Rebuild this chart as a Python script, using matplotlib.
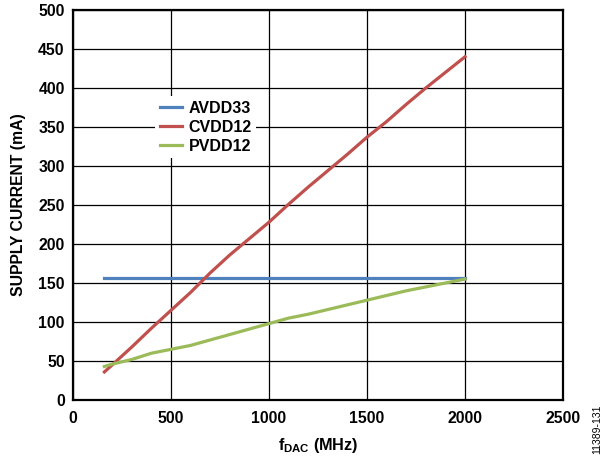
import matplotlib
matplotlib.use("Agg")
import matplotlib.pyplot as plt

plt.rcParams['font.family'] = ['Liberation Sans', 'DejaVu Sans']
plt.rcParams['mathtext.fontset'] = 'custom'
plt.rcParams['mathtext.rm'] = 'Liberation Sans:bold'
plt.rcParams['mathtext.it'] = 'Liberation Sans:bold'
plt.rcParams['mathtext.bf'] = 'Liberation Sans:bold'

# frequency points (MHz)
freq = [160, 200, 300, 400, 500, 600, 700, 800, 900, 1000,
        1100, 1200, 1300, 1400, 1500, 1600, 1700, 1800, 1900, 2000]
avdd33 = [157] * len(freq)
cvdd12 = [36, 45, 68, 92, 115, 138, 163, 186, 207, 228,
          251, 273, 294, 315, 337, 357, 379, 400, 420, 440]
pvdd12 = [43, 46, 52, 60, 65, 70, 77, 84, 91, 98,
          105, 110, 116, 122, 128, 134, 140, 145, 150, 155]

xticks = [0, 500, 1000, 1500, 2000, 2500]
yticks = list(range(0, 501, 50))

fs = 11.3

fig = plt.figure(figsize=(6.05, 4.58), dpi=100)
ax = fig.add_axes([0.1207, 0.1266, 0.8099, 0.8516])

ax.plot(freq, avdd33, color='#4F81BD', lw=2.3, label='AVDD33')
ax.plot(freq, cvdd12, color='#C0504D', lw=2.3, label='CVDD12')
ax.plot(freq, pvdd12, color='#9BBB59', lw=2.3, label='PVDD12')

ax.set_xlim(0, 2500)
ax.set_ylim(0, 500)
ax.set_xticks(xticks)
ax.set_yticks(yticks)
ax.grid(True, color='black', lw=0.9)
ax.tick_params(length=0, labelsize=fs)
ax.tick_params(axis='x', pad=8)
ax.tick_params(axis='y', pad=6)
for lab in ax.get_xticklabels() + ax.get_yticklabels():
    lab.set_fontweight('bold')
for sp in ax.spines.values():
    sp.set_linewidth(1.6)

ax.set_xlabel(r'$f_{DAC}$ (MHz)', fontsize=fs + 0.4, fontweight='bold', labelpad=7)
ax.set_ylabel('SUPPLY CURRENT (mA)', fontsize=fs, fontweight='bold', labelpad=9)

leg = ax.legend(loc='upper left', bbox_to_anchor=(0.167, 0.78), frameon=True,
                fancybox=False, edgecolor='none', framealpha=1, borderaxespad=0,
                handlelength=1.4, handletextpad=0.4, labelspacing=0.25,
                borderpad=0.3, prop={'weight': 'bold', 'size': 11.5})

fig.text(0.987, 0.063, '11389-131', rotation=90, fontsize=7.5, ha='center', va='center')

fig.savefig('out.png', dpi=100)
